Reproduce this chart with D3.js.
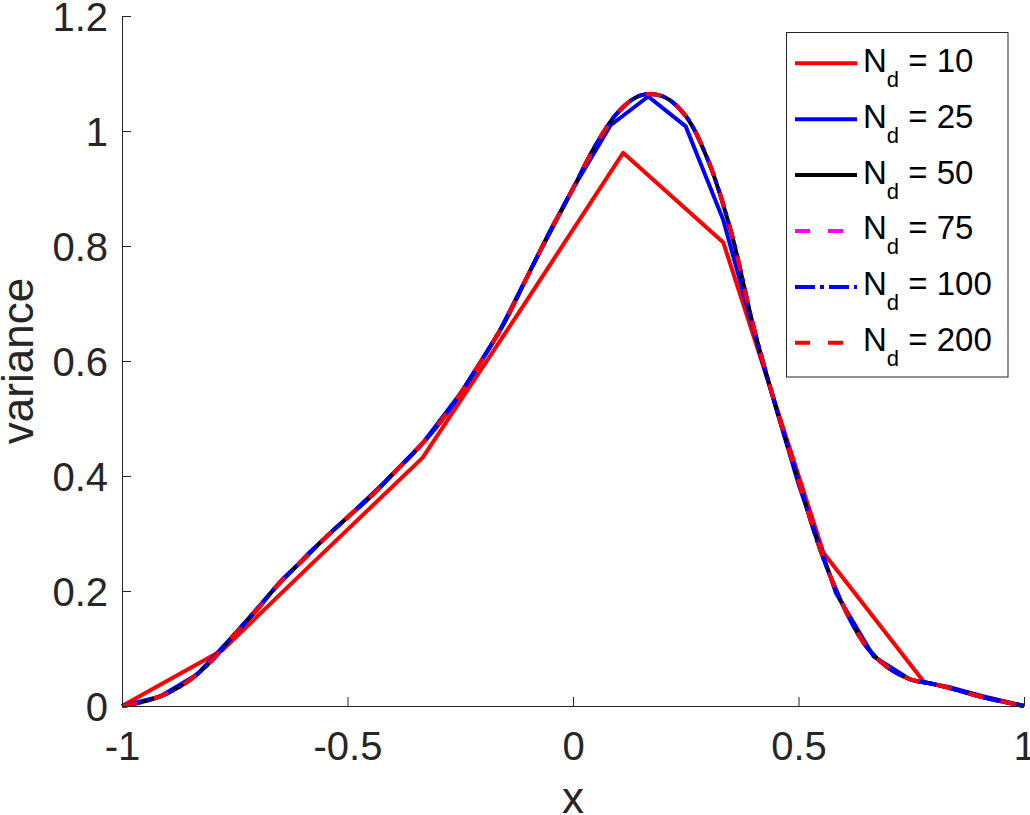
<!DOCTYPE html>
<html>
<head>
<meta charset="utf-8">
<script src="https://cdn.jsdelivr.net/npm/d3@7"></script>
<style>
  body { margin: 0; background: #fff; }
  svg { display: block; }
</style>
</head>
<body>
<div id="chart"></div>
<script>
// x grids
const xFine = d3.range(41).map((i) => -1 + i * 0.05);
const x10 = [-1, -0.7778, -0.5556, -0.3333, -0.1111, 0.1111, 0.3333, 0.5556, 0.7778, 1];
const x25 = [-1, -0.9167, -0.8333, -0.75, -0.6667, -0.5833, -0.5, -0.4167, -0.3333, -0.25, -0.1667, -0.0833,
  0, 0.0833, 0.1667, 0.25, 0.3333, 0.4167, 0.5, 0.5833, 0.6667, 0.75, 0.8333, 0.9167, 1];

// values
const v10 = [0, 0.097, 0.265, 0.432, 0.695, 0.962, 0.806, 0.266, 0.042, 0];
const v25 = [0, 0.016, 0.055, 0.125, 0.2, 0.268, 0.328, 0.39, 0.457, 0.543, 0.646, 0.775,
  0.9, 1.01, 1.06, 1.008, 0.845, 0.607, 0.386, 0.196, 0.086, 0.045, 0.033, 0.015, 0];
// N_d = 50, 75, 100, 200 lie on top of each other at this scale
const vSmooth = [0, 0.008, 0.022, 0.045, 0.08, 0.125, 0.168, 0.215, 0.253, 0.292, 0.328,
  0.363, 0.403, 0.443, 0.488, 0.543, 0.604, 0.67, 0.749, 0.827, 0.9,
  0.975, 1.033, 1.062, 1.06, 1.026, 0.948, 0.826, 0.66, 0.52, 0.392,
  0.268, 0.173, 0.104, 0.066, 0.046, 0.038, 0.028, 0.017, 0.008, 0];

const xTicks = [-1, -0.5, 0, 0.5, 1];
const yTicks = [0, 0.2, 0.4, 0.6, 0.8, 1, 1.2];

const series = [
  { name: "10", xs: x10, ys: v10, color: "#ff0000", dash: null, smooth: false },
  { name: "25", xs: x25, ys: v25, color: "#0000ff", dash: null, smooth: false },
  { name: "50", xs: xFine, ys: vSmooth, color: "#000000", dash: null, smooth: true },
  { name: "75", xs: xFine, ys: vSmooth, color: "#ff00ff", dash: "15,18", smooth: true },
  { name: "100", xs: xFine, ys: vSmooth, color: "#0000ff", dash: "20,5,4,5", smooth: true },
  { name: "200", xs: xFine, ys: vSmooth, color: "#ff0000", dash: "15,18", smooth: true }
];

const W = 1030, H = 815;
const plot = { left: 122, right: 1024, top: 16, bottom: 706 };
const font = "'Liberation Sans', Arial, Helvetica, sans-serif";
const axisColor = "#262626";

const svg = d3.select("#chart").append("svg").attr("width", W).attr("height", H);

const x = d3.scaleLinear().domain([-1, 1]).range([plot.left, plot.right]);
const y = d3.scaleLinear().domain([0, 1.2]).range([plot.bottom, plot.top]);

// lines
const line = d3.line();
series.forEach((s) => {
  const pts = s.xs.map((xv, i) => [x(xv), y(s.ys[i])]);
  line.curve(s.smooth ? d3.curveCatmullRom.alpha(0.5) : d3.curveLinear);
  svg.append("path")
    .attr("d", line(pts))
    .attr("fill", "none")
    .attr("stroke", s.color)
    .attr("stroke-width", 4)
    .attr("stroke-linejoin", "round")
    .attr("stroke-dasharray", s.dash);
});

// axes (box off, ticks inside)
const gx = svg.append("g")
  .attr("transform", `translate(0,${plot.bottom})`)
  .call(d3.axisBottom(x).tickValues(xTicks).tickSizeInner(-9).tickSizeOuter(0).tickFormat((d) => String(d)));
const gy = svg.append("g")
  .attr("transform", `translate(${plot.left},0)`)
  .call(d3.axisLeft(y).tickValues(yTicks).tickSizeInner(-9).tickSizeOuter(0).tickFormat((d) => String(d)));

[gx, gy].forEach((g) => {
  g.select(".domain").attr("stroke", axisColor).attr("stroke-width", 1);
  g.selectAll(".tick line").attr("stroke", axisColor).attr("stroke-width", 1);
  g.selectAll(".tick text")
    .attr("fill", axisColor)
    .style("font-family", font)
    .style("font-size", "40px");
});
gx.selectAll(".tick text").attr("y", 54).attr("dy", null);
gy.selectAll(".tick text").attr("x", -14).attr("dy", "0.36em");

// axis labels
svg.append("text")
  .attr("x", (plot.left + plot.right) / 2)
  .attr("y", 813)
  .attr("text-anchor", "middle")
  .attr("fill", axisColor)
  .style("font-family", font)
  .style("font-size", "44px")
  .text("x");

svg.append("text")
  .attr("transform", `translate(33,${(plot.top + plot.bottom) / 2}) rotate(-90)`)
  .attr("text-anchor", "middle")
  .attr("fill", axisColor)
  .style("font-family", font)
  .style("font-size", "44px")
  .text("variance");

// legend
const lg = svg.append("g");
lg.append("rect")
  .attr("x", 786.5).attr("y", 32.5)
  .attr("width", 221.5).attr("height", 344.5)
  .attr("fill", "#fff")
  .attr("stroke", axisColor)
  .attr("stroke-width", 1);

series.forEach((s, i) => {
  const ry = 63.3 + i * 55.9;
  lg.append("line")
    .attr("x1", 795).attr("x2", 857)
    .attr("y1", ry).attr("y2", ry)
    .attr("stroke", s.color)
    .attr("stroke-width", 4)
    .attr("stroke-dasharray", s.dash);
  const t = lg.append("text")
    .attr("x", 863).attr("y", ry + 8.4)
    .attr("fill", "#000")
    .style("font-family", font)
    .style("font-size", "33px");
  t.append("tspan").text("N");
  t.append("tspan").attr("dy", 15).style("font-size", "22px").text("d");
  t.append("tspan").attr("dy", -15).text(" = " + s.name);
});
</script>
</body>
</html>
